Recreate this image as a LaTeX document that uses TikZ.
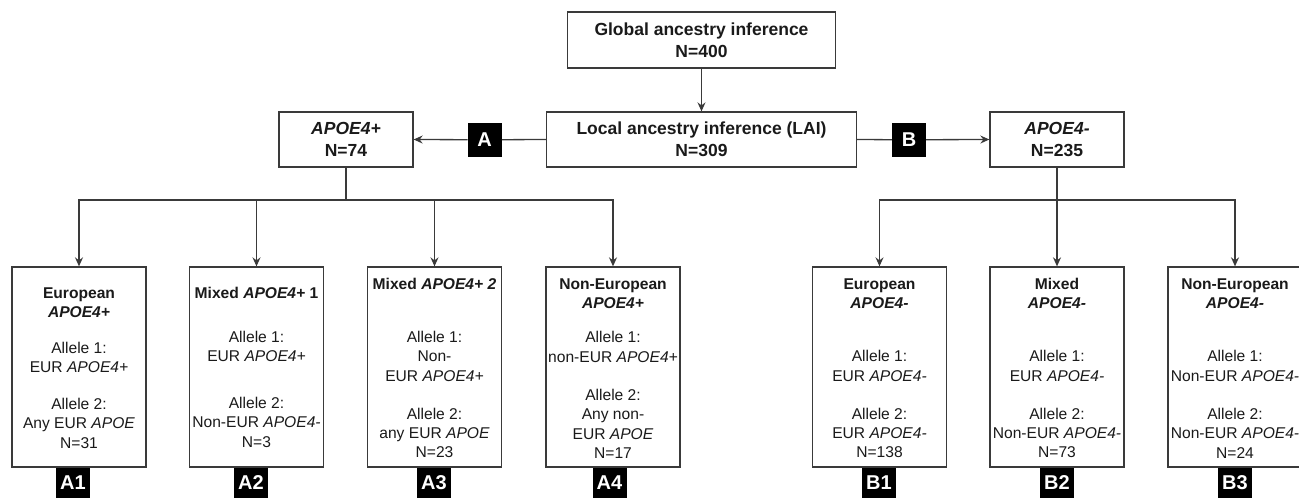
\documentclass[tikz,border=0pt]{standalone}
\usepackage{fontspec}
\setmainfont{Liberation Sans}
\usetikzlibrary{arrows.meta}
\definecolor{linec}{HTML}{3A3A3A}
\definecolor{txtc}{HTML}{1A1A1A}
\tikzset{
  box/.style={draw=linec, line width=1.3pt, fill=white, inner sep=0pt, align=center, text=txtc},
  topbox/.style={box, minimum height=55pt, font=\bfseries\fontsize{17.5}{22.4}\selectfont},
  lowbox/.style={box, minimum width=134pt, minimum height=200pt},
  grp/.style={align=center, inner sep=0pt, text=txtc, font=\fontsize{15.6}{19.4}\selectfont},
  ttl/.style={align=center, inner sep=0pt, text=txtc, font=\bfseries\fontsize{15.6}{19.4}\selectfont},
  tag/.style={fill=black, text=white, font=\bfseries\fontsize{20}{20}\selectfont, minimum width=34pt, minimum height=34pt, inner sep=0pt},
  ltag/.style={tag, minimum height=30pt},
  conn/.style={draw=linec, line width=1.3pt},
  arr/.style={conn, -{Stealth[length=9pt,width=8pt,inset=3pt]}},
}
\begin{document}
\begin{tikzpicture}[x=1pt,y=-1pt]
\useasboundingbox (0,0) rectangle (1299,498);
\clip (0,0) rectangle (1299,498);
% top boxes
\node[topbox, minimum width=268pt, minimum height=56pt] (glob) at (701.5,40) {Global ancestry inference\\N=400};
\node[topbox, minimum width=310pt] (loc) at (701.5,139.5) {Local ancestry inference (LAI)\\N=309};
\node[topbox, minimum width=134pt] (apos) at (346,139.5) {\textit{APOE4+}\\N=74};
\node[topbox, minimum width=134pt] (aneg) at (1057,139.5) {\textit{APOE4-}\\N=235};
\node[tag] (la) at (484.7,139.7) {A};
\node[tag] (lb) at (909,139.7) {B};
% lower boxes
\node[lowbox] (a1) at (79,367) {};
\node[lowbox] (a2) at (256.5,367) {};
\node[lowbox] (a3) at (434.5,367) {};
\node[lowbox] (a4) at (613,367) {};
\node[lowbox] (b1) at (879.5,367) {};
\node[lowbox] (b2) at (1057,367) {};
\node[lowbox] (b3) at (1235,367) {};
% A1
\node[ttl] (a1t) at (79,302.5) {European\\\textit{APOE4+}};
\node[grp] (a1m) at (79,357.5) {Allele 1:\\EUR \textit{APOE4+}};
\node[grp] (a1b) at (79,423.3) {Allele 2:\\Any EUR \textit{APOE}\\N=31};
% A2
\node[ttl] (a2t) at (256.5,293.3) {Mixed \textit{APOE4+} 1};
\node[grp] (a2m) at (256.5,346.7) {Allele 1:\\EUR \textit{APOE4+}};
\node[grp] (a2b) at (256.5,422.2) {Allele 2:\\Non-EUR \textit{APOE4-}\\N=3};
% A3
\node[ttl] (a3t) at (434.5,284) {Mixed \textit{APOE4+ 2}};
\node[grp] (a3m) at (434.5,356.3) {Allele 1:\\Non-\\EUR \textit{APOE4+}};
\node[grp] (a3b) at (434.5,433) {Allele 2:\\any EUR \textit{APOE}\\N=23};
% A4
\node[ttl] (a4t) at (613,293.7) {Non-European\\\textit{APOE4+}};
\node[grp] (a4m) at (613,347) {Allele 1:\\non-EUR \textit{APOE4+}};
\node[grp] (a4b) at (613,423.9) {Allele 2:\\Any non-\\EUR \textit{APOE}\\N=17};
% B1
\node[ttl] (b1t) at (879.5,293.7) {European\\\textit{APOE4-}};
\node[grp] (b1m) at (879.5,365.9) {Allele 1:\\EUR \textit{APOE4-}};
\node[grp] (b1b) at (879.5,433) {Allele 2:\\EUR \textit{APOE4-}\\N=138};
% B2
\node[ttl] (b2t) at (1057,293.7) {Mixed\\\textit{APOE4-}};
\node[grp] (b2m) at (1057,365.9) {Allele 1:\\EUR \textit{APOE4-}};
\node[grp] (b2b) at (1057,433) {Allele 2:\\Non-EUR \textit{APOE4-}\\N=73};
% B3
\node[ttl] (b3t) at (1235,293.7) {Non-European\\\textit{APOE4-}};
\node[grp] (b3m) at (1235,365.9) {Allele 1:\\Non-EUR \textit{APOE4-}};
\node[grp] (b3b) at (1235,433) {Allele 2:\\Non-EUR \textit{APOE4-}\\N=24};
% tags
\node[ltag] (ta1) at (73,483) {A1};
\node[ltag] (ta2) at (251,483) {A2};
\node[ltag] (ta3) at (434,483) {A3};
\node[ltag] (ta4) at (609.5,483) {A4};
\node[ltag] (tb1) at (879,483) {B1};
\node[ltag] (tb2) at (1057,483) {B2};
\node[ltag] (tb3) at (1235,483) {B3};
% connectors
\draw[arr] (glob) -- (loc);
\draw[conn] (loc.west) -- (la.east);
\draw[arr] (la.west) -- (apos.east);
\draw[conn] (loc.east) -- (lb.west);
\draw[arr] (lb.east) -- (aneg.west);
\coordinate (busA) at (346,200);
\coordinate (busB) at (1057,200);
\draw[conn] (apos.south) -- (busA);
\draw[arr] (busA) -| (a1.north);
\draw[arr] (busA) -| (a2.north);
\draw[arr] (busA) -| (a3.north);
\draw[arr] (busA) -| (a4.north);
\draw[arr] (aneg.south) -- (b2.north);
\draw[arr] (busB) -| (b1.north);
\draw[arr] (busB) -| (b3.north);
\end{tikzpicture}
\end{document}
